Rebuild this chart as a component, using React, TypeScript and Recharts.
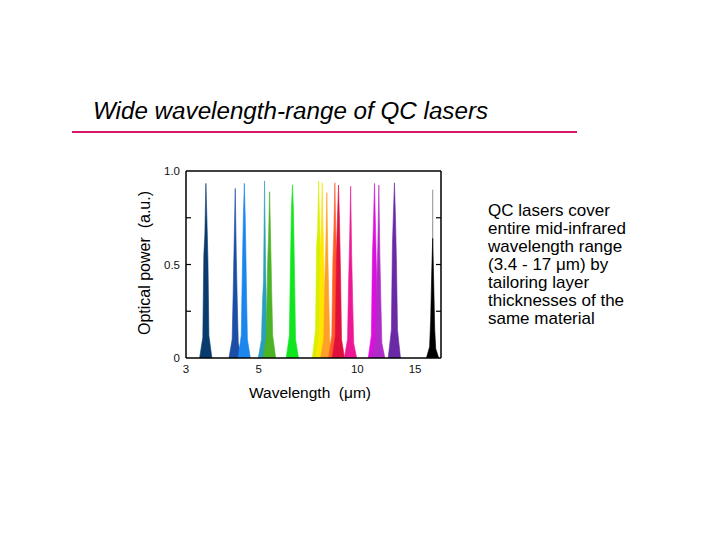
import React from 'react';
import { ComposedChart, Area, XAxis, YAxis } from 'recharts';

// Axis ticks
const xTickLabels = [3, 5, 10, 15];
const xMinorTicks = [4, 5, 6, 7, 8, 9, 10, 11, 12, 13, 14, 15, 16, 17];
const yTickLabels = [0, 0.5, 1];
const yMinorTicks = [0.25, 0.5, 0.75];

// Emission spectra: [wavelength (um), optical power (a.u.)]
const laser3_45: [number, number][] = [[3.301, 0], [3.376, 0.11], [3.4, 0.55], [3.425, 0.66], [3.45, 0.934], [3.475, 0.74], [3.5, 0.52], [3.524, 0.12], [3.599, 0]];
const laser4_24: [number, number][] = [[4.057, 0], [4.149, 0.1], [4.179, 0.35], [4.21, 0.64], [4.24, 0.907], [4.271, 0.55], [4.301, 0.3], [4.332, 0.08], [4.423, 0]];
const laser4_52: [number, number][] = [[4.325, 0], [4.423, 0.12], [4.455, 0.45], [4.488, 0.75], [4.52, 0.934], [4.553, 0.72], [4.585, 0.4], [4.618, 0.1], [4.715, 0]];
const laser5_21: [number, number][] = [[4.985, 0], [5.098, 0.1], [5.135, 0.3], [5.173, 0.42], [5.21, 0.947], [5.248, 0.5], [5.285, 0.22], [5.323, 0.06], [5.435, 0]];
const laser5_40: [number, number][] = [[5.167, 0], [5.283, 0.12], [5.322, 0.5], [5.361, 0.66], [5.4, 0.889], [5.439, 0.62], [5.478, 0.35], [5.517, 0.12], [5.633, 0]];
const laser6_34: [number, number][] = [[6.066, 0], [6.203, 0.12], [6.249, 0.5], [6.294, 0.8], [6.34, 0.926], [6.386, 0.78], [6.431, 0.45], [6.477, 0.1], [6.614, 0]];
const laser7_62: [number, number][] = [[7.291, 0], [7.455, 0.15], [7.51, 0.6], [7.565, 0.68], [7.62, 0.947], [7.675, 0.7], [7.73, 0.5], [7.785, 0.12], [7.949, 0]];
const laser7_81: [number, number][] = [[7.473, 0], [7.641, 0.12], [7.698, 0.55], [7.754, 0.7], [7.81, 0.937], [7.866, 0.66], [7.922, 0.4], [7.979, 0.1], [8.147, 0]];
const laser8_07: [number, number][] = [[7.721, 0], [7.896, 0.1], [7.954, 0.4], [8.012, 0.6], [8.07, 0.884], [8.128, 0.55], [8.186, 0.3], [8.244, 0.08], [8.419, 0]];
const laser8_54: [number, number][] = [[8.171, 0], [8.356, 0.12], [8.417, 0.5], [8.479, 0.68], [8.54, 0.937], [8.602, 0.65], [8.663, 0.4], [8.725, 0.1], [8.909, 0]];
const laser8_76: [number, number][] = [[8.381, 0], [8.571, 0.12], [8.634, 0.55], [8.697, 0.75], [8.76, 0.925], [8.823, 0.72], [8.886, 0.45], [8.949, 0.1], [9.139, 0]];
const laser9_54: [number, number][] = [[9.128, 0], [9.334, 0.1], [9.403, 0.4], [9.471, 0.62], [9.54, 0.919], [9.609, 0.55], [9.677, 0.3], [9.746, 0.08], [9.952, 0]];
const laser11_28: [number, number][] = [[10.793, 0], [11.036, 0.12], [11.118, 0.55], [11.199, 0.72], [11.28, 0.934], [11.361, 0.7], [11.442, 0.45], [11.524, 0.1], [11.767, 0]];
const laser11_63: [number, number][] = [[11.128, 0], [11.379, 0.1], [11.463, 0.4], [11.546, 0.6], [11.63, 0.925], [11.714, 0.55], [11.797, 0.3], [11.881, 0.08], [12.132, 0]];
const laser12_98: [number, number][] = [[12.419, 0], [12.7, 0.15], [12.793, 0.6], [12.887, 0.78], [12.98, 0.937], [13.074, 0.75], [13.167, 0.5], [13.261, 0.15], [13.541, 0]];
const laser16_98top: [number, number][] = [[16.92, 0], [16.98, 0.9], [17.04, 0]];
const laser16_98: [number, number][] = [[16.246, 0], [16.613, 0.06], [16.735, 0.2], [16.858, 0.45], [16.98, 0.64], [17.102, 0.4], [17.225, 0.15], [17.347, 0.05], [17.714, 0]];

const spectra = [
  laser3_45, laser4_24, laser4_52, laser5_21, laser5_40, laser6_34, laser7_62, laser7_81,
  laser8_07, laser8_54, laser8_76, laser9_54, laser11_28, laser11_63, laser12_98, laser16_98top, laser16_98,
];
const laserColors = [
  '#0a3b6e', '#1d4ea6', '#1a86ee', '#2aa0bc', '#4cb424', '#10e620', '#d6f000', '#ffe600',
  '#ffa028', '#ff5a28', '#e0103c', '#ee1896', '#dc10dc', '#b02cc8', '#6a2aa6', '#8c8c8c', '#000000',
];

const bodyText = [
  'QC lasers cover',
  'entire mid-infrared',
  'wavelength range',
  '(3.4 - 17 μm) by',
  'tailoring layer',
  'thicknesses of the',
  'same material',
];

const FONT = '"Liberation Sans", Arial, sans-serif';
const tickStyle = { fontSize: 11.5, fill: '#111', fontFamily: FONT };

export default function App() {
  return (
    <div style={{ position: 'absolute', left: 0, top: 0, width: 720, height: 540, background: '#fff', fontFamily: FONT, overflow: 'hidden' }}>
      <div style={{ position: 'absolute', left: 93, top: 98.5, fontSize: 24.2, lineHeight: '24px', fontStyle: 'italic', color: '#000', whiteSpace: 'pre' }}>
        Wide wavelength-range of QC lasers
      </div>
      <div style={{ position: 'absolute', left: 72, top: 131, width: 505, height: 2, background: '#d4176b' }} />

      <div style={{ position: 'absolute', left: 0, top: 0 }}>
        <ComposedChart width={720} height={540} margin={{ top: 171, right: 279, bottom: 152, left: 146 }}>
          <XAxis
            xAxisId="x"
            dataKey="w"
            type="number"
            scale="log"
            domain={[3, 18]}
            allowDataOverflow
            ticks={xTickLabels}
            tickLine={false}
            tickSize={0}
            tickMargin={7}
            height={30}
            axisLine={{ stroke: '#000', strokeWidth: 1.5 }}
            tick={tickStyle}
          />
          <XAxis
            xAxisId="xb"
            type="number"
            scale="log"
            domain={[3, 18]}
            allowDataOverflow
            orientation="bottom"
            mirror
            ticks={xMinorTicks}
            tickFormatter={() => ''}
            tickSize={4}
            axisLine={false}
            tickLine={{ stroke: '#000', strokeWidth: 1.2 }}
          />
          <XAxis
            xAxisId="xt"
            type="number"
            scale="log"
            domain={[3, 18]}
            allowDataOverflow
            orientation="top"
            mirror
            ticks={xMinorTicks}
            tickFormatter={() => ''}
            tickSize={4}
            axisLine={{ stroke: '#000', strokeWidth: 1.5 }}
            tickLine={{ stroke: '#000', strokeWidth: 1.2 }}
          />
          <YAxis
            yAxisId="y"
            type="number"
            domain={[0, 1]}
            allowDataOverflow
            ticks={yTickLabels}
            tickFormatter={(v: number) => (v === 1 ? '1.0' : String(v))}
            tickLine={false}
            tickSize={0}
            tickMargin={6}
            width={40}
            axisLine={{ stroke: '#000', strokeWidth: 1.5 }}
            tick={tickStyle}
          />
          <YAxis
            yAxisId="yl"
            type="number"
            domain={[0, 1]}
            allowDataOverflow
            orientation="left"
            mirror
            ticks={yMinorTicks}
            tickFormatter={() => ''}
            tickSize={5}
            axisLine={false}
            tickLine={{ stroke: '#000', strokeWidth: 1.2 }}
          />
          <YAxis
            yAxisId="yr"
            type="number"
            domain={[0, 1]}
            allowDataOverflow
            orientation="right"
            mirror
            ticks={yMinorTicks}
            tickFormatter={() => ''}
            tickSize={5}
            axisLine={{ stroke: '#000', strokeWidth: 1.5 }}
            tickLine={{ stroke: '#000', strokeWidth: 1.2 }}
          />
          {spectra.map((pts, i) => (
            <Area
              key={i}
              xAxisId="x"
              yAxisId="y"
              data={pts.map(([w, p]) => ({ w, p }))}
              dataKey="p"
              type="linear"
              stroke={laserColors[i]}
              strokeWidth={0.6}
              fill={laserColors[i]}
              fillOpacity={1}
              dot={false}
              activeDot={false}
              isAnimationActive={false}
            />
          ))}
        </ComposedChart>
      </div>

      <div style={{ position: 'absolute', left: 210, top: 384.5, width: 200, textAlign: 'center', fontSize: 15.5, lineHeight: '15px', color: '#000', whiteSpace: 'pre' }}>
        {'Wavelength  (μm)'}
      </div>
      <div style={{ position: 'absolute', left: 45, top: 255, width: 200, height: 16, textAlign: 'center', fontSize: 16, lineHeight: '16px', color: '#000', whiteSpace: 'pre', transform: 'rotate(-90deg)' }}>
        {'Optical power  (a.u.)'}
      </div>

      <div style={{ position: 'absolute', left: 488, top: 202, fontSize: 17, lineHeight: '18px', color: '#000', whiteSpace: 'pre' }}>
        {bodyText.map((t, i) => (
          <div key={i}>{t}</div>
        ))}
      </div>
    </div>
  );
}
